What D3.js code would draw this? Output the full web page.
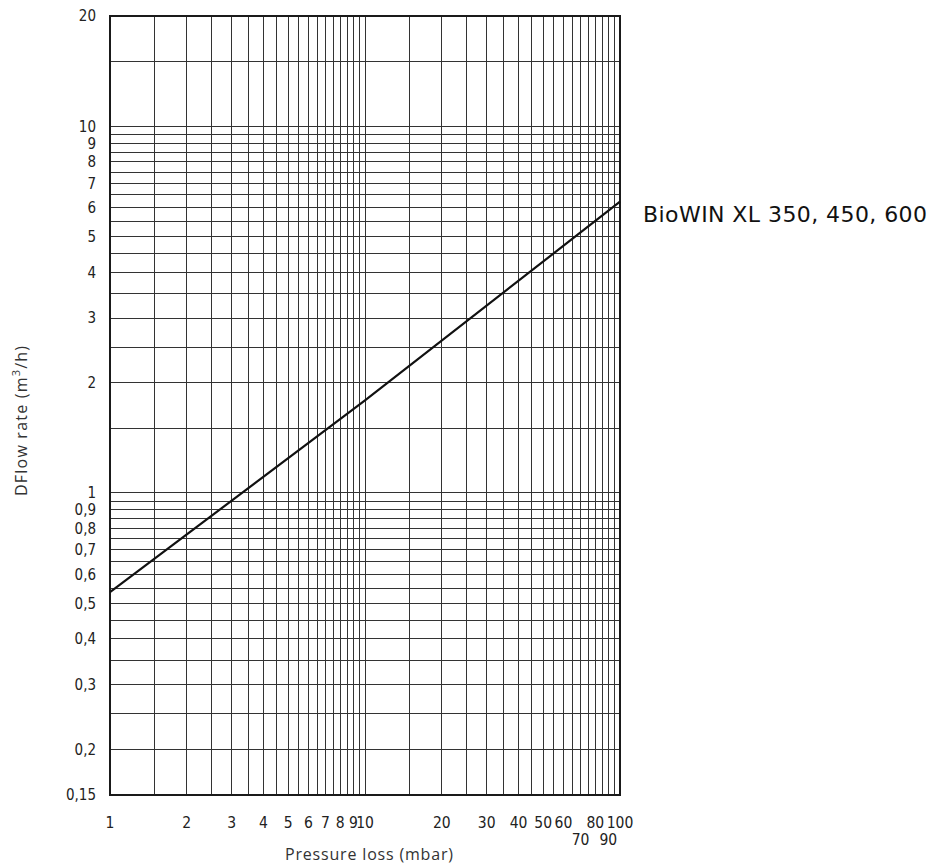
<!DOCTYPE html>
<html><head><meta charset="utf-8">
<script src="https://cdn.jsdelivr.net/npm/d3@7"></script>
<style>body{margin:0;background:#fff;} svg{display:block;}</style>
</head><body>
<svg id="c" width="930" height="865"></svg>
<script>
// Data
const pressureLoss = [1, 10, 100];          // mbar
const flowRate = [0.536, 1.79, 6.23];        // m3/h
const seriesName = "BioWIN XL 350, 450, 600";
const xTickValues = [1,2,3,4,5,6,7,8,9,10,20,30,40,50,60,70,80,90,100];
const xTickLowered = [70, 90];
const yTickValues = [20,10,9,8,7,6,5,4,3,2,1,0.9,0.8,0.7,0.6,0.5,0.4,0.3,0.2,0.15];
const xGrid = [1,1.5,2,2.5,3,3.5,4,4.5,5,5.5,6,6.5,7,7.5,8,8.5,9,9.5,10,15,20,25,30,35,40,45,50,55,60,65,70,75,80,85,90,95,100];
const yGrid = [0.15,0.2,0.25,0.3,0.35,0.4,0.45,0.5,0.55,0.6,0.65,0.7,0.75,0.8,0.85,0.9,0.95,1,1.5,2,2.5,3,3.5,4,4.5,5,5.5,6,6.5,7,7.5,8,8.5,9,9.5,10,15,20];

const svg = d3.select("#c");
const L = 110, R = 620, T = 16, B = 795;
const x = d3.scaleLog().domain([1,100]).range([L,R]);
const y = d3.scaleLog().domain([0.15,20]).range([B,T]);
const fmt = v => String(v).replace(".", ",");

const g = svg.append("g");
g.selectAll("line.vx").data(xGrid).join("line")
  .attr("x1", d=>x(d)).attr("x2", d=>x(d)).attr("y1", T).attr("y2", B)
  .attr("stroke", "#333").attr("stroke-width", 1).attr("shape-rendering","crispEdges");
g.selectAll("line.hy").data(yGrid).join("line")
  .attr("y1", d=>y(d)).attr("y2", d=>y(d)).attr("x1", L).attr("x2", R)
  .attr("stroke", "#333").attr("stroke-width", 1).attr("shape-rendering","crispEdges");

g.append("rect").attr("x", L).attr("y", T).attr("width", R-L).attr("height", B-T)
  .attr("fill","none").attr("stroke","#1a1a1a").attr("stroke-width",2);

// curve
const line = d3.line().x((d,i)=>x(pressureLoss[i])).y(d=>y(d));
g.append("path").datum(flowRate).attr("d", line)
  .attr("fill","none").attr("stroke","#111").attr("stroke-width",2.2);

// Y tick labels
const tickFont = "'DejaVu Sans Condensed','Liberation Sans Narrow',sans-serif";
svg.append("g").selectAll("text").data(yTickValues).join("text")
  .attr("x", 96).attr("y", d=>y(d)).attr("dy","0.36em")
  .attr("text-anchor","end").attr("font-family", tickFont)
  .attr("font-size", 15).attr("fill","#222").text(fmt);

// X tick labels
svg.append("g").selectAll("text").data(xTickValues).join("text")
  .attr("x", d=>x(d)).attr("y", d=> xTickLowered.includes(d) ? 845 : 828)
  .attr("text-anchor","middle").attr("font-family", tickFont)
  .attr("font-size", 15.5).attr("fill","#222").text(fmt);

// Axis titles
svg.append("text").attr("x", 369).attr("y", 860).attr("text-anchor","middle")
  .attr("font-family","'Open Sans',sans-serif").attr("font-size",16).attr("fill","#333")
  .attr("textLength", 168).attr("lengthAdjust","spacing")
  .text("Pressure loss (mbar)");
svg.append("text").attr("transform","translate(27,421) rotate(-90)").attr("text-anchor","middle")
  .attr("font-family","'Open Sans',sans-serif").attr("font-size",16).attr("fill","#333")
  .attr("textLength", 150).attr("lengthAdjust","spacing")
  .html("DFlow rate (m<tspan dy='-7' font-size='11'>3</tspan><tspan dy='7'>/h)</tspan>");

// Series label
svg.append("text").attr("x", 643).attr("y", 222)
  .attr("font-family","'DejaVu Sans',sans-serif").attr("font-size",22).attr("fill","#111")
  .attr("textLength", 284).attr("lengthAdjust","spacing")
  .text(seriesName);
</script>
</body></html>
